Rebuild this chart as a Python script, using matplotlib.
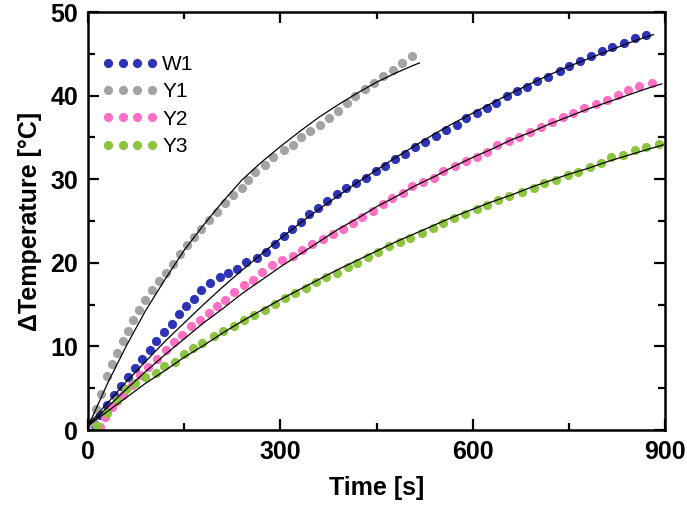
import matplotlib
matplotlib.use("Agg")
import matplotlib.pyplot as plt
from matplotlib.ticker import MultipleLocator

# ---------------- data ----------------
series_names = ["W1", "Y1", "Y2", "Y3"]
series_colors = ["#2e33b5", "#a3a3a3", "#ff6fc4", "#8dc43f"]

w1_time = [9, 19, 30, 40, 51, 62, 73, 85, 96, 106,
           118, 131, 142, 153, 165, 177, 190, 206, 219, 232,
           247, 264, 278, 292, 305, 318, 332, 345, 359, 373,
           388, 403, 418, 434, 449, 464, 479, 494, 510, 526,
           543, 558, 575, 590, 606, 622, 637, 653, 669, 684,
           700, 718, 736, 750, 767, 784, 801, 818, 836, 853,
           870]
w1_temp = [0.7, 1.8, 3.0, 4.2, 5.3, 6.3, 7.4, 8.5, 9.6, 10.6,
           11.7, 12.7, 13.9, 14.8, 15.7, 16.7, 17.6, 18.3, 18.8, 19.3,
           20.1, 20.6, 21.3, 22.3, 23.2, 24.0, 24.9, 25.8, 26.6, 27.4,
           28.2, 28.9, 29.5, 30.2, 31.0, 31.6, 32.4, 33.0, 33.8, 34.5,
           35.2, 35.9, 36.5, 37.3, 37.9, 38.5, 39.1, 39.9, 40.6, 41.0,
           41.7, 42.2, 42.9, 43.5, 44.1, 44.7, 45.3, 45.8, 46.3, 46.85,
           47.25]

y1_time = [6, 13, 21, 30, 37, 45, 54, 62, 70, 79,
           89, 100, 111, 121, 133, 144, 154, 166, 177, 189,
           201, 214, 226, 240, 250, 261, 276, 289, 305, 320,
           333, 347, 362, 376, 390, 404, 416, 432, 446, 460,
           475, 489, 505]
y1_temp = [1.0, 2.5, 4.3, 6.5, 7.9, 9.2, 10.6, 11.8, 13.2, 14.4,
           15.6, 16.7, 17.8, 18.8, 19.9, 21.0, 22.1, 23.1, 24.1, 25.1,
           26.1, 27.2, 28.1, 28.9, 29.9, 30.9, 31.7, 32.7, 33.5, 34.1,
           35.0, 35.8, 36.5, 37.3, 38.1, 39.1, 40.0, 40.75, 41.5, 42.35,
           43.1, 43.9, 44.7]

y2_time = [18, 27, 37, 46, 55, 68, 81, 94, 107,
           121, 134, 146, 160, 175, 189, 201, 214, 227, 243,
           258, 271, 287, 302, 319, 334, 349, 366, 382, 397,
           413, 428, 444, 460, 474, 491, 506, 523, 540, 554,
           572, 590, 606, 622, 638, 656, 673, 689, 706, 723,
           741, 757, 774, 793, 810, 826, 843, 860, 880]
y2_temp = [0.4, 1.5, 2.7, 3.5, 4.2, 5.4, 6.6, 7.5, 8.5,
           9.6, 10.5, 11.4, 12.4, 13.2, 14.0, 14.8, 15.6, 16.5, 17.3,
           18.0, 18.9, 19.7, 20.3, 20.8, 21.5, 22.25, 22.85, 23.5, 24.0,
           24.8, 25.5, 26.2, 27.0, 27.8, 28.4, 29.2, 29.7, 30.2, 31.0,
           31.6, 32.2, 32.7, 33.3, 34.1, 34.6, 35.1, 35.6, 36.2, 36.9,
           37.4, 37.95, 38.5, 39.0, 39.5, 40.1, 40.7, 41.1, 41.55]

y3_time = [14, 29, 45, 60, 74, 89, 106, 119, 136, 150,
           163, 178, 196, 210, 227, 243, 259, 276, 292, 307,
           323, 340, 356, 371, 388, 405, 420, 436, 453, 469,
           487, 503, 521, 538, 553, 571, 588, 606, 623, 640,
           657, 677, 695, 711, 730, 748, 765, 783, 800, 815,
           835, 853, 870, 890]
y3_temp = [0.5, 2.0, 3.6, 4.9, 5.6, 6.3, 6.8, 7.6, 8.1, 9.1,
           9.8, 10.45, 11.2, 11.9, 12.5, 13.15, 13.75, 14.35, 15.1, 15.75,
           16.35, 16.95, 17.7, 18.3, 18.8, 19.45, 20.0, 20.7, 21.3, 22.0,
           22.5, 23.0, 23.6, 24.2, 24.8, 25.3, 25.8, 26.4, 26.9, 27.5,
           28.0, 28.5, 28.9, 29.6, 29.9, 30.5, 30.9, 31.4, 31.9, 32.6,
           32.9, 33.5, 33.9, 34.2]

# fitted curves
w1_fit_time = [0, 30, 60, 90, 120, 150, 180, 210, 240, 270, 300, 330, 360, 390, 420,
               450, 480, 510, 540, 570, 600, 630, 660, 690, 720, 750, 780, 810, 840, 870, 882]
w1_fit_temp = [0.6, 3.2, 5.8, 8.2, 10.6, 12.8, 15.0, 17.1, 19.1, 21.0, 22.9, 24.7, 26.4, 28.0, 29.6,
               31.1, 32.6, 34.0, 35.4, 36.7, 37.9, 39.1, 40.3, 41.4, 42.5, 43.5, 44.4, 45.3, 46.2, 47.0, 47.3]

y1_fit_time = [0, 30, 60, 90, 120, 150, 180, 210, 240, 270, 300, 330, 360, 390, 420,
               450, 480, 510, 517]
y1_fit_temp = [0.4, 5.5, 10.1, 14.3, 18.0, 21.5, 24.5, 27.3, 29.9, 32.0, 33.9, 35.7, 37.4, 38.9, 40.3,
               41.6, 42.7, 43.7, 43.9]

y2_fit_time = [0, 30, 60, 90, 120, 150, 180, 210, 240, 270, 300, 330, 360, 390, 420,
               450, 480, 510, 540, 570, 600, 630, 660, 690, 720, 750, 780, 810, 840, 870, 895]
y2_fit_temp = [0.5, 2.7, 4.9, 7.0, 9.0, 10.9, 12.8, 14.5, 16.3, 17.9, 19.5, 21.0, 22.5, 24.0, 25.3,
               26.7, 27.9, 29.2, 30.3, 31.5, 32.6, 33.6, 34.7, 35.6, 36.6, 37.5, 38.4, 39.2, 40.0, 40.8, 41.4]

y3_fit_time = [0, 30, 60, 90, 120, 150, 180, 210, 240, 270, 300, 330, 360, 390, 420,
               450, 480, 510, 540, 570, 600, 630, 660, 690, 720, 750, 780, 810, 840, 870, 897]
y3_fit_temp = [0.5, 2.2, 3.9, 5.6, 7.1, 8.7, 10.1, 11.6, 13.0, 14.3, 15.6, 16.8, 18.0, 19.2, 20.3,
               21.4, 22.5, 23.5, 24.5, 25.5, 26.4, 27.3, 28.1, 29.0, 29.8, 30.6, 31.3, 32.1, 32.8, 33.5, 34.1]

x_ticks = [0, 300, 600, 900]
y_ticks = [0, 10, 20, 30, 40, 50]
x_label = "Time [s]"
y_label = "ΔTemperature [°C]"

# ---------------- plot ----------------
fig = plt.figure(figsize=(6.87, 5.07), dpi=100)
ax = fig.add_axes([88 / 687, 1 - 430 / 507, (665 - 88) / 687, (430 - 12) / 507])

data_t = [w1_time, y1_time, y2_time, y3_time]
data_T = [w1_temp, y1_temp, y2_temp, y3_temp]
for name, col, t, T in zip(series_names, series_colors, data_t, data_T):
    ax.plot(t, T, linestyle="none", marker="o", markersize=5.6,
            markerfacecolor=col, markeredgecolor=col, label=name, zorder=2)

for ft, fT in [(w1_fit_time, w1_fit_temp), (y1_fit_time, y1_fit_temp),
               (y2_fit_time, y2_fit_temp), (y3_fit_time, y3_fit_temp)]:
    ax.plot(ft, fT, color="black", linewidth=0.9, zorder=3)

ax.set_xlim(0, 900)
ax.set_ylim(0, 50)
ax.set_xticks(x_ticks)
ax.set_yticks(y_ticks)
ax.xaxis.set_minor_locator(MultipleLocator(150))
ax.yaxis.set_minor_locator(MultipleLocator(5))

for s in ax.spines.values():
    s.set_linewidth(1.8)

ax.tick_params(which="both", direction="in", top=True, right=True, width=1.6)
ax.tick_params(which="major", length=8, pad=7)
ax.tick_params(which="minor", length=5)

tick_font = dict(family=["Liberation Sans Narrow", "Liberation Sans", "DejaVu Sans"],
                 weight="bold", size=18)
for lab in ax.get_xticklabels() + ax.get_yticklabels():
    lab.set_fontfamily(tick_font["family"])
    lab.set_fontweight("bold")
    lab.set_fontsize(tick_font["size"])

ax.set_xlabel(x_label, fontdict=tick_font, labelpad=9)
ax.set_ylabel(y_label, fontdict=tick_font, labelpad=6)

leg = ax.legend(loc="upper left", bbox_to_anchor=(0.0238, 0.897), frameon=False,
                numpoints=4, handlelength=2.72, handletextpad=0.18, labelspacing=0.4,
                borderpad=0, borderaxespad=0,
                prop=dict(family=["Liberation Sans", "DejaVu Sans"], size=15))

fig.savefig("out.png", dpi=100)
